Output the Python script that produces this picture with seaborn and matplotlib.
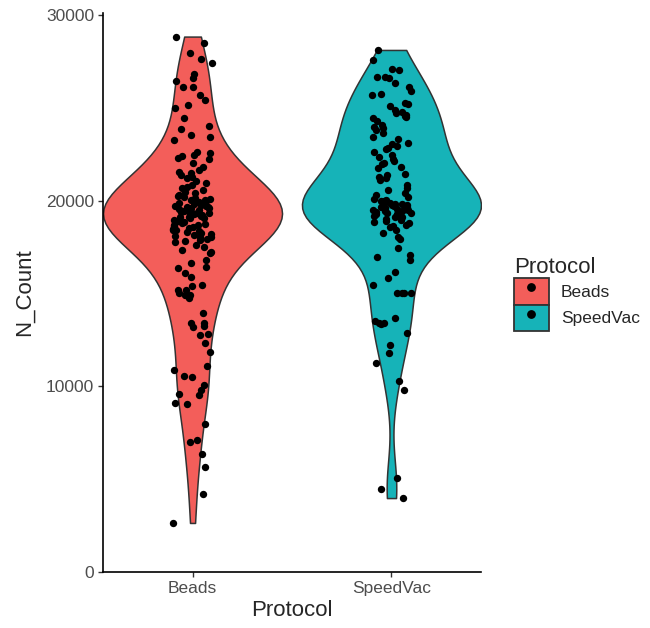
import matplotlib.pyplot as plt
import seaborn as sns
import numpy as np
import pandas as pd
from matplotlib.patches import Patch
from matplotlib.lines import Line2D

protocols = ["Beads", "SpeedVac"]
colors = ["#F35E5A", "#16B3B8"]

beads_counts = [
    28830, 28480, 27950, 27600, 27400, 26800, 26600, 26450, 26120, 26100,
    25690, 25420, 25150, 24980, 24440, 24020, 23850, 23530, 23420, 23260,
    22620, 22570, 22400, 22450, 22240, 22290, 22020, 21810, 21650, 21480,
    21380, 21270, 21220, 20840, 20730, 20950, 20570, 20460, 20410, 20190,
    20030, 19600, 19490, 19660, 19600, 19760, 19490, 19330, 19120, 19230,
    19120, 19060, 18690, 18580, 18520, 18420, 18420, 18250, 18150, 18040,
    18040, 17880, 17770, 17820, 17610, 17340, 17230, 17180, 16800, 16640,
    16420, 16370, 16100, 15890, 15460, 15400, 15190, 15190, 14920, 14920,
    15020, 14750, 14920, 13950, 13410, 13190, 13410, 13250, 12820, 12760,
    12330, 11850, 10880, 11090, 10550, 10500, 10070, 9800, 9590, 9530,
    9100, 9050, 7970, 7000, 7110, 6350, 5650, 4200, 2640,
    19550, 19400, 19700, 19800, 19350, 19950, 20100, 18900, 18800, 18350,
    20250, 20650, 21050, 21550, 17500, 17950, 18700, 19250, 19050, 18200,
    19450, 19520, 19680, 19580, 19380, 19280, 19180, 19720, 19850, 19900,
    20050, 20150, 20300, 18950, 18850, 18750, 18620, 18480, 18300, 18100,
]

speedvac_counts = [
    28110, 27570, 27080, 27030, 26600, 26660, 26660, 26330, 26120, 25900,
    25740, 25690, 25250, 25200, 25090, 24770, 24610, 24720, 24500, 24440,
    24070, 23910, 23800, 23100, 23420, 23320, 22620, 22780, 22830, 22350,
    22450, 22240, 22020, 21810, 21760, 21270, 21220, 21380, 21110, 20190,
    20410, 20300, 20030, 19660, 19870, 19660, 19760, 19490, 19330, 19230,
    19120, 19120, 18850, 18960, 18790, 18420, 18250, 18040, 17930, 17450,
    16960, 17070, 16800, 15830, 16160, 15460, 15020, 15020, 15020, 15020,
    13410, 13410, 13360, 13680, 13520, 12870, 12220, 11790, 11250, 10280,
    9800, 5060, 4470, 3980,
    24300, 24550, 24900, 23650, 23050, 22950, 21950, 21450, 20550, 20650,
    19550, 19400, 19300, 19950, 19800, 18650, 18550, 20850, 23950, 22150,
    19600, 19500, 19450, 19700, 19750, 19820, 19900, 19350, 19250, 19180,
    19050, 19000, 18900, 18700, 19620, 19680, 19520, 19420, 20100, 20000,
]

df = pd.DataFrame({
    "Protocol": ["Beads"] * len(beads_counts) + ["SpeedVac"] * len(speedvac_counts),
    "N_Count": beads_counts + speedvac_counts,
})

sns.set_style("ticks")
plt.rcParams["font.family"] = ["Liberation Sans", "DejaVu Sans"]

fig = plt.figure(figsize=(6.5, 6.28), dpi=100)
ax = fig.add_axes([0.1585, 0.0892, 0.5815, 0.8901])

sns.violinplot(
    data=df,
    x="Protocol",
    y="N_Count",
    hue="Protocol",
    palette=dict(zip(protocols, colors)),
    cut=0,
    inner=None,
    density_norm="area",
    width=0.9,
    bw_adjust=0.9,
    saturation=1,
    linewidth=1.1,
    linecolor="#333333",
    legend=False,
    ax=ax,
)

np.random.seed(7)
sns.stripplot(
    data=df,
    x="Protocol",
    y="N_Count",
    color="black",
    size=5.3,
    jitter=0.1,
    ax=ax,
    zorder=3,
)

ax.set_xlim(-0.45, 1.45)
ax.set_ylim(0, 30100)
ax.set_yticks([0, 10000, 20000, 30000])
sns.despine(ax=ax)
for side in ["left", "bottom"]:
    ax.spines[side].set_linewidth(1.2)
    ax.spines[side].set_color("black")
ax.tick_params(length=3.5, width=1, color="#333333",
               labelcolor="#4D4D4D", labelsize=12.5, pad=3)
ax.set_xlabel("Protocol", fontsize=16, labelpad=3)
ax.set_ylabel("N_Count", fontsize=16, labelpad=8)

handles = [
    (Patch(facecolor=c, edgecolor="#333333", linewidth=1.3),
     Line2D([], [], marker="o", color="black", linestyle="", markersize=5.3))
    for c in colors
]
leg = fig.legend(
    handles, protocols,
    title="Protocol",
    loc="center left",
    bbox_to_anchor=(514 / 650, 1 - 294 / 628),
    frameon=False,
    fontsize=12.5,
    title_fontsize=16,
    handlelength=2,
    handleheight=2,
    handletextpad=0.7,
    labelspacing=0,
    borderpad=0,
    borderaxespad=0,
    alignment="left",
)

fig.savefig("out.png", dpi=100)
